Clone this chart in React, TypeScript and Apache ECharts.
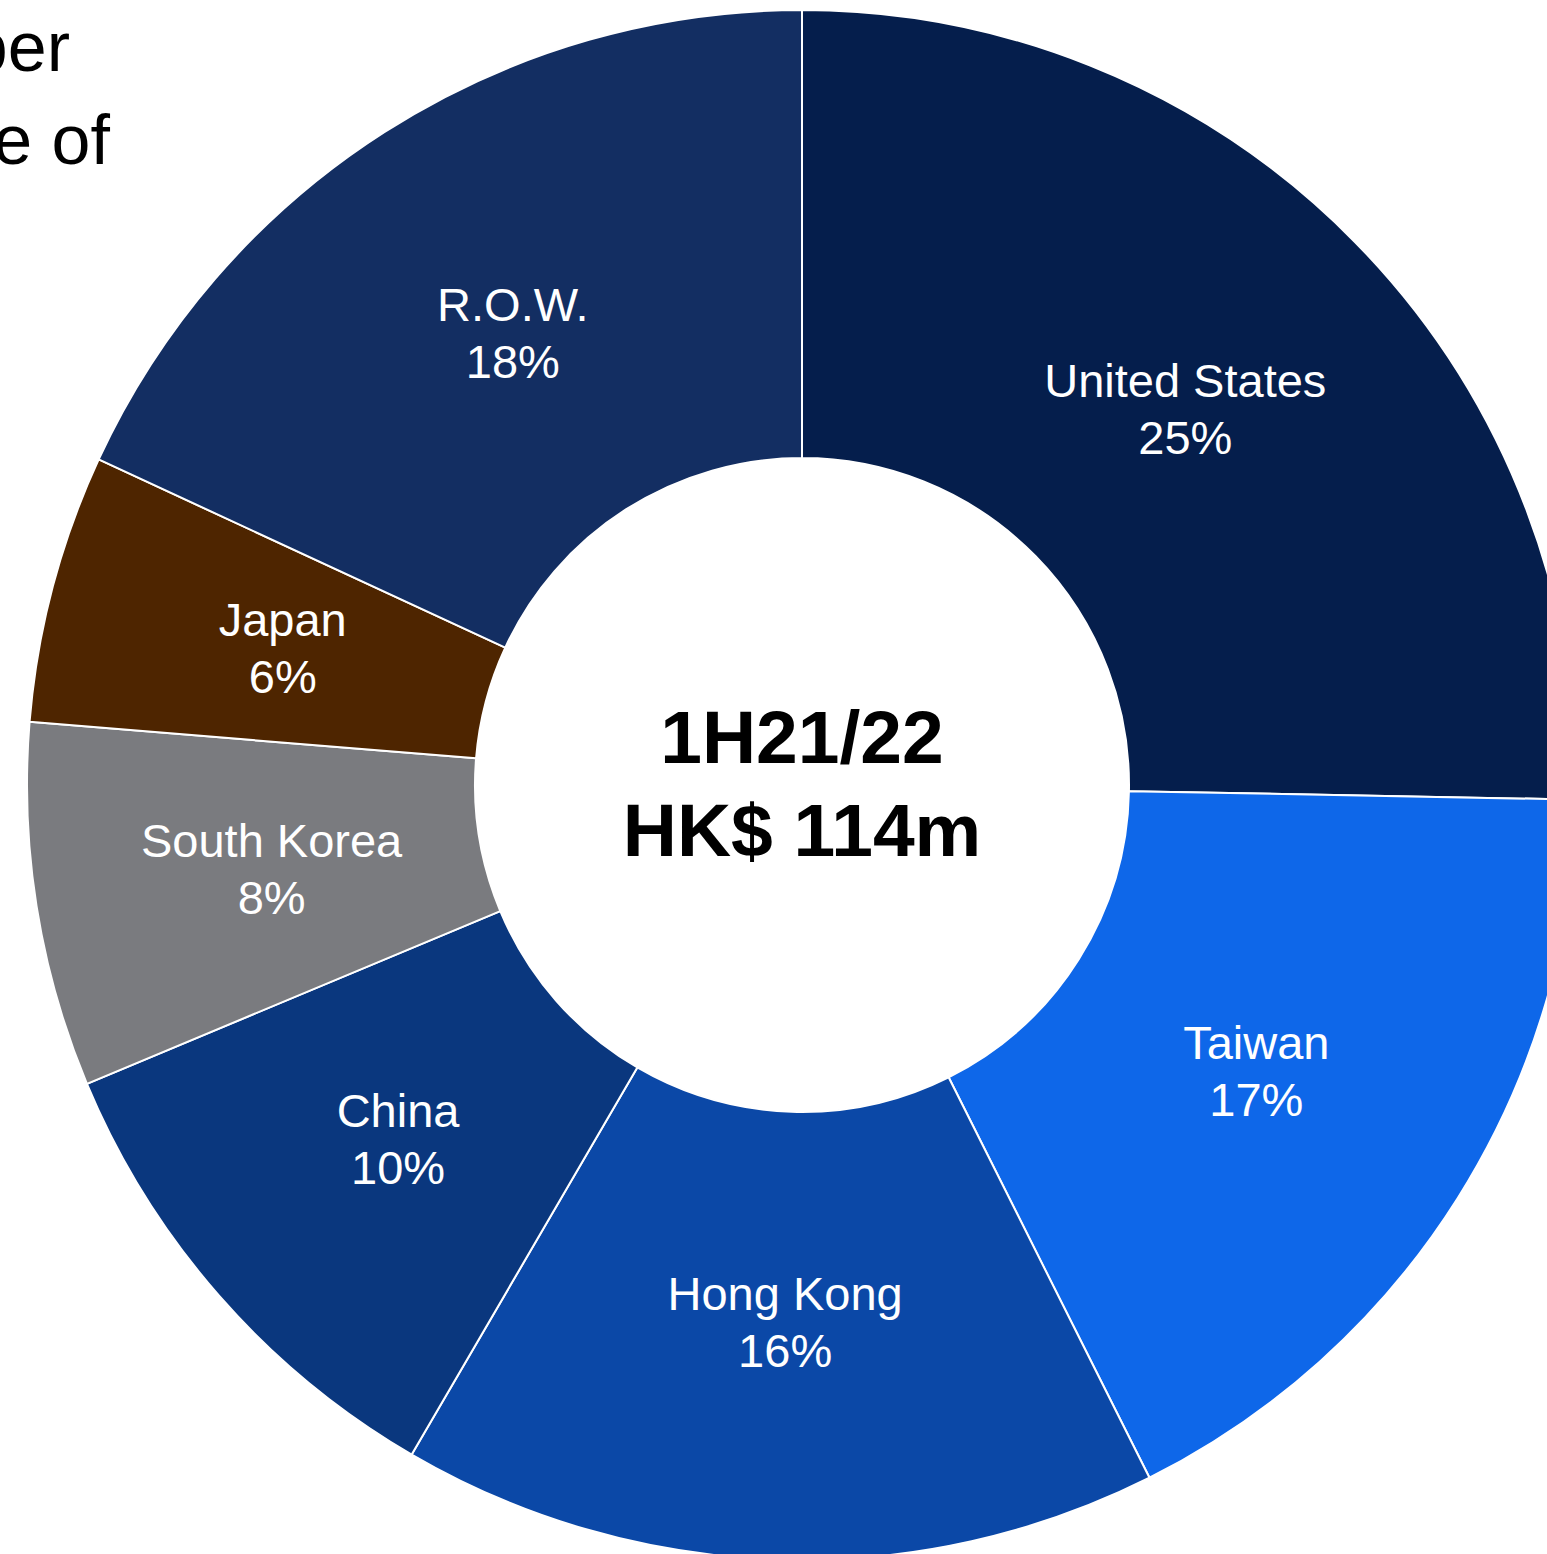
import React, { useEffect, useRef } from "react";
import * as echarts from "echarts";

const categories = ["United States", "Taiwan", "Hong Kong", "China", "South Korea", "Japan", "R.O.W."];
const shares = [25.3, 17.3, 15.8, 10.3, 7.6, 5.6, 18.1];
const sliceColors = ["#051e4c", "#0e67e9", "#0b48a7", "#0a377e", "#7a7b7f", "#4e2500", "#132e62"];
const centerLines = ["1H21/22", "HK$ 114m"];
const titleFragments = ["ber", "e of"];

const FONT = "'Liberation Sans', Helvetica, Arial, sans-serif";

export default function App() {
  const ref = useRef<HTMLDivElement>(null);
  useEffect(() => {
    if (!ref.current) return;
    const chart = echarts.init(ref.current, undefined, { renderer: "svg" });
    chart.setOption({
      animation: false,
      backgroundColor: "#ffffff",
      series: [
        {
          type: "pie",
          center: [802, 785],
          radius: [327, 775],
          startAngle: 90,
          clockwise: true,
          silent: true,
          itemStyle: { borderColor: "#ffffff", borderWidth: 2 },
          label: { show: false },
          labelLine: { show: false },
          emphasis: { disabled: true },
          data: categories.map((c, i) => ({
            name: c,
            value: shares[i],
            itemStyle: { color: sliceColors[i] },
          })),
        },
        {
          type: "pie",
          center: [802, 785],
          radius: [327, 741],
          startAngle: 90,
          clockwise: true,
          silent: true,
          avoidLabelOverlap: false,
          itemStyle: { color: "rgba(0,0,0,0)", borderWidth: 0 },
          label: {
            show: true,
            position: "inside",
            color: "#ffffff",
            fontFamily: FONT,
            fontSize: 47,
            lineHeight: 57,
            formatter: (p: any) => `${p.name}\n${Math.round(p.value)}%`,
          },
          labelLine: { show: false },
          emphasis: { disabled: true },
          data: categories.map((c, i) => ({ name: c, value: shares[i] })),
        },
      ],
      graphic: [
        {
          type: "text",
          x: 802,
          y: 737,
          style: {
            text: centerLines[0],
            font: `bold 75px ${FONT}`,
            fill: "#000000",
            align: "center",
            verticalAlign: "middle",
          },
        },
        {
          type: "text",
          x: 802,
          y: 830,
          style: {
            text: centerLines[1],
            font: `bold 75px ${FONT}`,
            fill: "#000000",
            align: "center",
            verticalAlign: "middle",
          },
        },
        {
          type: "text",
          x: 70,
          y: 47,
          style: {
            text: titleFragments[0],
            font: `70px ${FONT}`,
            fill: "#000000",
            align: "right",
            verticalAlign: "middle",
          },
        },
        {
          type: "text",
          x: 110,
          y: 140,
          style: {
            text: titleFragments[1],
            font: `70px ${FONT}`,
            fill: "#000000",
            align: "right",
            verticalAlign: "middle",
          },
        },
      ],
    });
    return () => chart.dispose();
  }, []);
  return (
    <div
      ref={ref}
      style={{ position: "fixed", left: 0, top: 0, width: 1547, height: 1554 }}
    />
  );
}
